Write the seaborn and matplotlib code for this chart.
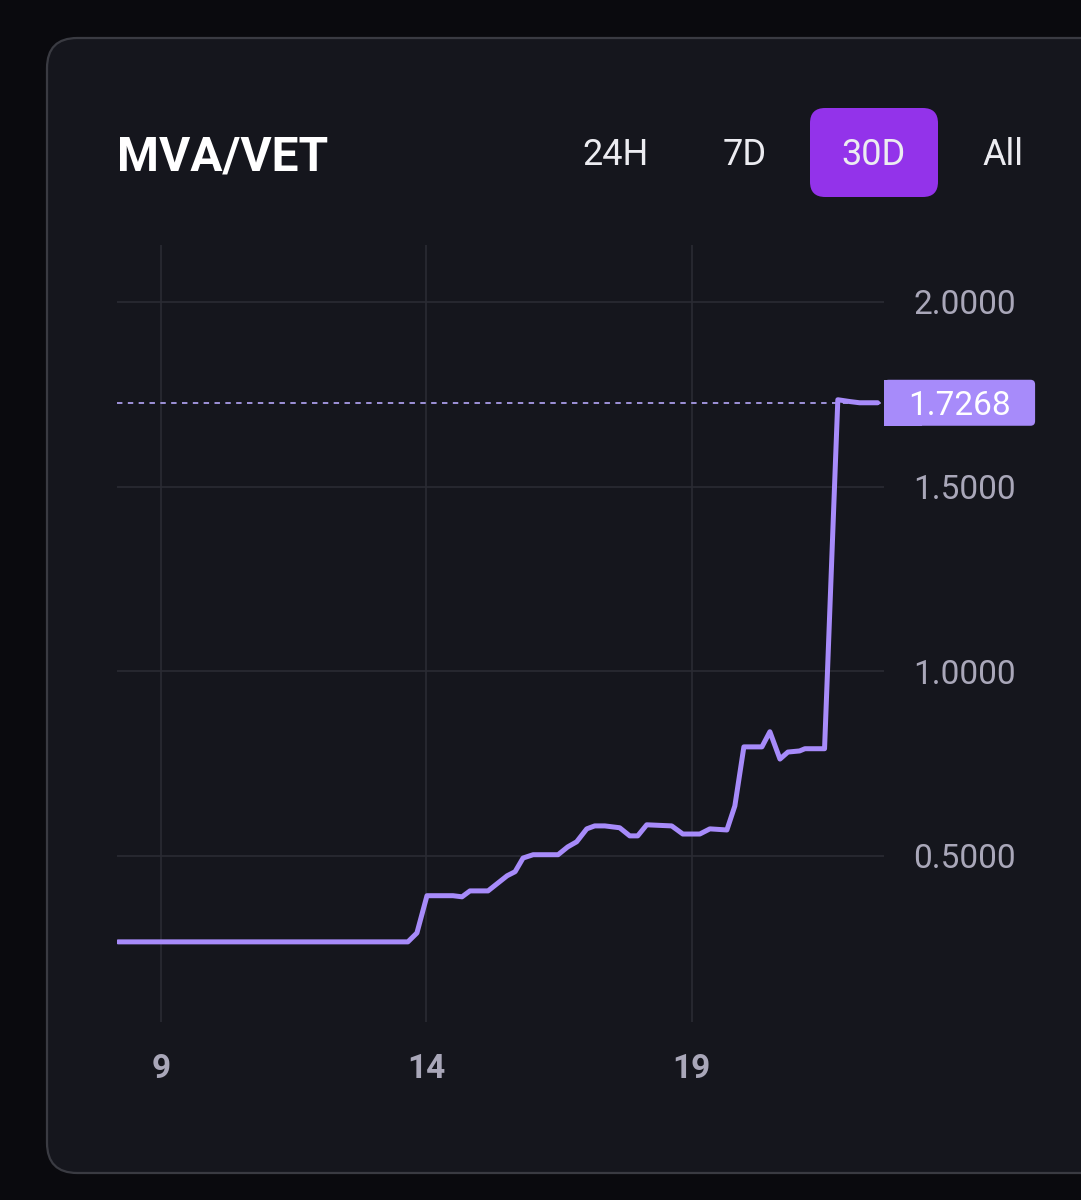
import numpy as np
import pandas as pd
import seaborn as sns
import matplotlib.pyplot as plt
import matplotlib.transforms as mtransforms
from matplotlib.patches import FancyBboxPatch, Rectangle

# chart data
days = [8.19, 13.65, 13.82, 14.01, 14.50, 14.67, 14.82, 15.16, 15.52, 15.67,
        15.82, 16.01, 16.48, 16.66, 16.83, 17.02, 17.17, 17.36, 17.64, 17.83,
        17.98, 18.15, 18.62, 18.83, 19.15, 19.34, 19.66, 19.81, 19.98, 20.32,
        20.47, 20.66, 20.81, 21.03, 21.13, 21.50, 21.75, 21.98, 22.16, 22.50]
prices = [0.267, 0.267, 0.291, 0.392, 0.392, 0.389, 0.405, 0.405, 0.446, 0.457,
          0.494, 0.503, 0.503, 0.524, 0.538, 0.573, 0.581, 0.581, 0.576, 0.554,
          0.554, 0.584, 0.581, 0.559, 0.559, 0.573, 0.570, 0.635, 0.795, 0.795,
          0.836, 0.762, 0.781, 0.784, 0.790, 0.790, 1.735, 1.730, 1.7268, 1.7268]
last_price = 1.7268
pair_name = "MVA/VET"
ranges = ["24H", "7D", "30D", "All"]
active_range = "30D"
x_ticks = [9, 14, 19]
y_ticks = [0.5, 1.0, 1.5, 2.0]

df = pd.DataFrame({"day": days, "price": prices})

# colours
page_bg = "#0a0a0e"
card_bg = "#15161d"
card_edge = "#3a3b42"
grid_col = "#2a2b33"
line_col = "#a78bfa"
tick_col = "#a9a7b9"
btn_col = "#9333ea"

sns.set_theme(style="dark")
plt.rcParams["font.family"] = ["Roboto", "DejaVu Sans"]

W, H = 1081, 1200
fig = plt.figure(figsize=(W / 100, H / 100), dpi=100)
fig.patch.set_facecolor(page_bg)

# card background
card = FancyBboxPatch((47 / W, 1 - 1173 / H), (1140 - 47) / W, (1173 - 38) / H,
                      boxstyle="round,pad=0,rounding_size=0.028",
                      mutation_aspect=W / H,
                      transform=fig.transFigure, facecolor=card_bg,
                      edgecolor=card_edge, linewidth=1.6, zorder=-5)
fig.patches.append(card)

ax = fig.add_axes([117 / W, 1 - 1022 / H, (884 - 117) / W, (1022 - 245) / H])
ax.set_zorder(2)
ax.set_facecolor("none")

sns.lineplot(data=df, x="day", y="price", ax=ax, color=line_col,
             estimator=None, zorder=3)
ax.lines[0].set_linewidth(3.6)
ax.lines[0].set_solid_joinstyle("round")

ax.set_xlim(8.17, 22.62)
ax.set_ylim(0.050, 2.154)
ax.set_xticks(x_ticks)
ax.set_xticklabels([str(t) for t in x_ticks])
ax.set_yticks(y_ticks)
ax.set_yticklabels([f"{t:.4f}" for t in y_ticks])
ax.yaxis.tick_right()
ax.tick_params(axis="x", length=0, pad=22, labelsize=24, labelcolor=tick_col)
ax.tick_params(axis="y", length=0, pad=21, labelsize=24, labelcolor=tick_col)
for lbl in ax.get_xticklabels():
    lbl.set_fontweight("bold")
ax.grid(True, color=grid_col, linewidth=1.2)
for s in ax.spines.values():
    s.set_visible(False)
ax.set_xlabel("")
ax.set_ylabel("")

# dotted last price line and tag
ax.axhline(last_price, color="#a99ce8", linewidth=1.3, linestyle=(0, (3, 3)), zorder=2)
blend = mtransforms.blended_transform_factory(ax.transAxes, ax.transData)
ax.add_patch(FancyBboxPatch((1.0, last_price - 0.0623), 0.197, 0.1246, transform=blend,
                            boxstyle="round,pad=0,rounding_size=0.006",
                            mutation_aspect=0.1246 / 0.197 * 767 / 46 * 0.2,
                            facecolor=line_col, edgecolor="none", clip_on=False, zorder=4))
ax.add_patch(Rectangle((1.0, last_price - 0.0623), 0.05, 0.1246, transform=blend,
                       facecolor=line_col, edgecolor="none", clip_on=False, zorder=4))
ax.text(1.0985, last_price, f"{last_price:.4f}", transform=blend, ha="center",
        va="center_baseline", fontsize=24, color="white", zorder=5)

# header
fig.text(117 / W, 1 - 170 / H, pair_name, fontsize=34.5, fontweight="bold",
         color="white", ha="left", va="baseline")
btn_x = [616, 745, 874, 1003]
for name, bx in zip(ranges, btn_x):
    if name == active_range:
        btn = FancyBboxPatch((810 / W, 1 - 197 / H), 128 / W, 89 / H,
                             boxstyle="round,pad=0,rounding_size=0.014",
                             mutation_aspect=W / H, transform=fig.transFigure,
                             facecolor=btn_col, edgecolor="none", zorder=-4)
        fig.patches.append(btn)
    fig.text(bx / W, 1 - 165 / H, name, fontsize=26, color="#ececf1",
             ha="center", va="baseline", zorder=2)

fig.savefig("out.png", dpi=100, facecolor=page_bg)
